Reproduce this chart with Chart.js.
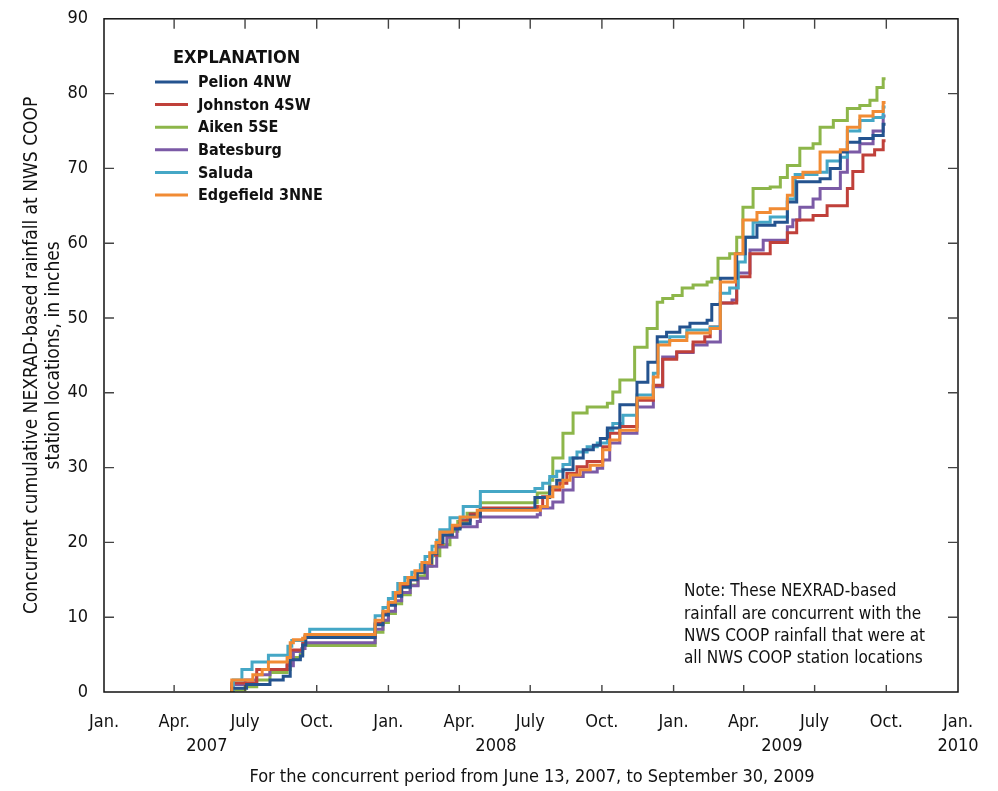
<!DOCTYPE html>
<html>
<head>
<meta charset="utf-8">
<title>Concurrent cumulative NEXRAD-based rainfall</title>
<script src="https://cdn.jsdelivr.net/npm/chart.js@4.4.1/dist/chart.umd.min.js"></script>
<style>
  html, body { margin: 0; padding: 0; background: #fff; }
  #wrap { width: 998px; height: 791px; }
</style>
</head>
<body>
<div id="wrap"><canvas id="rainChart" width="998" height="791"></canvas></div>
<script>
// x values are days counted from 1 January 2007
const quarterDays = [0, 90, 181, 273, 365, 456, 547, 639, 731, 821, 912, 1004, 1096];
const quarterLabels = ['Jan.', 'Apr.', 'July', 'Oct.', 'Jan.', 'Apr.', 'July', 'Oct.', 'Jan.', 'Apr.', 'July', 'Oct.', 'Jan.'];
const yearLabels = ['2007', '2008', '2009', '2010'];
const yearLabelDays = [132, 503, 870, 1096];

const stationNames = ['Pelion 4NW', 'Johnston 4SW', 'Aiken 5SE', 'Batesburg', 'Saluda', 'Edgefield 3NNE'];
const stationColors = ['#24538f', '#c0403a', '#8db64a', '#7b5aa6', '#45a7c6', '#f18b34'];
const drawOrder = [1, 3, 5, 4, 2, 0];

// cumulative rainfall, inches
const pelionDays = [163, 164, 183, 213, 230, 239, 252, 255, 259, 348, 358, 365, 374, 382, 393, 402, 411, 420, 427, 435, 447, 457, 470, 483, 553, 572, 581, 589, 602, 615, 628, 637, 646, 662, 684, 698, 710, 722, 739, 752, 774, 780, 791, 812, 823, 838, 861, 877, 889, 919, 932, 945, 954, 970, 987, 1000, 1003];
const pelionRain = [0, 0.5, 1.0, 1.6, 2.1, 4.3, 4.8, 6.3, 7.3, 9.0, 10.3, 11.6, 12.8, 14.0, 15.0, 16.0, 17.3, 18.5, 20.0, 21.0, 21.8, 22.5, 23.5, 24.4, 26.0, 27.4, 28.3, 29.7, 31.3, 32.4, 33.0, 33.9, 35.3, 38.4, 41.4, 44.1, 47.5, 48.1, 48.8, 49.3, 49.7, 51.8, 55.3, 58.6, 60.8, 62.4, 62.8, 65.5, 68.2, 68.6, 70.0, 72.2, 73.5, 74.0, 74.4, 75.9, 75.9];

const johnstonDays = [163, 164, 196, 235, 239, 255, 258, 348, 358, 365, 374, 382, 393, 402, 411, 420, 427, 434, 447, 457, 470, 483, 556, 563, 572, 585, 594, 607, 620, 640, 649, 662, 684, 705, 717, 735, 756, 771, 778, 791, 812, 829, 855, 877, 889, 910, 928, 954, 961, 974, 989, 1000, 1003];
const johnstonRain = [0, 1.2, 3.0, 3.9, 5.6, 6.6, 7.5, 9.2, 10.5, 11.8, 13.0, 14.3, 15.0, 16.0, 17.2, 18.3, 19.8, 21.0, 22.0, 23.0, 23.8, 24.6, 24.8, 26.1, 27.0, 27.9, 29.2, 30.1, 30.8, 32.8, 34.6, 35.5, 39.0, 41.0, 44.5, 45.5, 46.8, 47.5, 48.8, 52.0, 55.5, 58.6, 60.1, 61.4, 63.1, 63.7, 65.0, 67.3, 69.6, 71.8, 72.5, 73.7, 73.7];

const aikenDays = [163, 164, 181, 196, 213, 235, 239, 252, 255, 348, 358, 365, 374, 382, 393, 403, 412, 421, 431, 444, 454, 466, 483, 556, 572, 576, 589, 602, 620, 646, 653, 662, 681, 697, 710, 717, 730, 742, 756, 774, 780, 788, 803, 812, 820, 833, 855, 868, 877, 893, 910, 919, 936, 954, 970, 983, 992, 1000, 1003];
const aikenRain = [0, 0.3, 0.7, 1.6, 2.6, 3.0, 4.6, 5.0, 6.2, 8.0, 9.3, 10.5, 11.8, 13.0, 14.3, 15.5, 16.8, 18.2, 19.7, 21.5, 22.8, 23.9, 25.3, 26.6, 28.3, 31.3, 34.6, 37.3, 38.1, 38.6, 40.1, 41.7, 46.1, 48.6, 52.1, 52.6, 53.0, 54.0, 54.4, 54.8, 55.3, 58.0, 58.6, 60.8, 64.8, 67.3, 67.5, 68.8, 70.4, 72.7, 73.3, 75.5, 76.4, 78.0, 78.4, 79.1, 80.8, 82.0, 82.0];

const batesburgDays = [163, 164, 181, 196, 213, 235, 243, 254, 258, 348, 358, 365, 374, 382, 393, 403, 415, 427, 440, 453, 479, 483, 556, 560, 576, 589, 602, 615, 633, 640, 649, 662, 684, 705, 717, 735, 756, 774, 791, 806, 812, 829, 846, 877, 884, 893, 910, 919, 945, 954, 970, 987, 1000, 1003];
const batesburgRain = [0, 1.0, 1.6, 2.3, 3.0, 3.5, 5.4, 5.8, 6.6, 8.4, 9.6, 10.8, 12.2, 13.3, 14.2, 15.2, 16.8, 19.4, 20.7, 22.1, 22.8, 23.4, 23.7, 24.6, 25.4, 27.0, 28.8, 29.4, 29.9, 31.0, 33.3, 34.6, 38.1, 40.8, 44.8, 45.4, 46.4, 46.8, 52.0, 52.4, 56.0, 59.1, 60.4, 62.2, 63.1, 64.8, 65.9, 67.3, 69.5, 72.2, 73.3, 75.0, 77.0, 77.0];

const saludaDays = [163, 166, 177, 190, 211, 236, 241, 258, 264, 348, 358, 365, 371, 377, 386, 395, 406, 412, 421, 427, 431, 444, 461, 483, 553, 563, 572, 581, 589, 598, 607, 620, 633, 646, 653, 666, 684, 705, 711, 726, 748, 778, 791, 803, 814, 823, 833, 855, 877, 887, 915, 928, 945, 954, 970, 987, 1000, 1003];
const saludaRain = [0, 1.6, 3.0, 4.0, 4.9, 6.1, 6.9, 7.4, 8.4, 10.2, 11.3, 12.5, 13.3, 14.5, 15.3, 16.0, 17.0, 18.1, 19.5, 20.3, 21.7, 23.3, 24.8, 26.8, 27.2, 27.9, 28.8, 29.5, 30.4, 31.3, 32.1, 32.8, 33.3, 35.0, 35.9, 37.0, 39.7, 42.6, 46.8, 47.5, 48.4, 48.8, 53.3, 54.0, 57.5, 60.8, 62.8, 63.5, 65.9, 69.2, 69.5, 71.0, 71.5, 75.0, 76.4, 76.8, 78.2, 78.2];

const edgefieldDays = [163, 164, 191, 203, 211, 235, 239, 243, 255, 258, 348, 358, 365, 374, 380, 390, 399, 408, 418, 426, 431, 447, 457, 479, 560, 569, 576, 589, 598, 611, 624, 640, 649, 662, 684, 705, 711, 726, 748, 778, 791, 810, 820, 838, 855, 877, 884, 897, 919, 945, 954, 970, 987, 1000, 1003];
const edgefieldRain = [0, 1.6, 2.3, 3.0, 4.0, 4.6, 6.6, 7.0, 7.2, 7.7, 9.6, 10.8, 12.0, 13.3, 14.5, 15.3, 16.2, 17.3, 18.6, 20.0, 21.4, 22.3, 23.4, 24.3, 24.8, 26.1, 27.4, 28.3, 29.0, 29.7, 30.3, 32.4, 33.7, 35.0, 39.3, 42.1, 46.4, 47.0, 48.0, 48.6, 54.8, 58.6, 63.1, 64.1, 64.6, 66.4, 68.8, 69.5, 72.2, 72.5, 75.5, 77.0, 77.6, 78.8, 78.8];

const stationDays = [pelionDays, johnstonDays, aikenDays, batesburgDays, saludaDays, edgefieldDays];
const stationRain = [pelionRain, johnstonRain, aikenRain, batesburgRain, saludaRain, edgefieldRain];

const yTitle = ['Concurrent cumulative NEXRAD-based rainfall at NWS COOP', 'station locations, in inches'];
const xTitle = 'For the concurrent period from June 13, 2007, to September 30, 2009';
const noteLines = ['Note: These NEXRAD-based', 'rainfall are concurrent with the', 'NWS COOP rainfall that were at', 'all NWS COOP station locations'];

const FONT = "'Liberation Sans Narrow', 'DejaVu Sans Condensed', 'Roboto Condensed', 'Liberation Sans', sans-serif";
Chart.defaults.font.family = FONT;
Chart.defaults.color = '#111';

const datasets = stationNames.map((name, i) => ({
  label: name,
  data: stationDays[i].map((d, k) => ({ x: d, y: stationRain[i][k] })),
  borderColor: stationColors[i],
  backgroundColor: stationColors[i],
  borderWidth: 3,
  pointRadius: 0,
  stepped: true,
  fill: false,
  order: drawOrder[i]
}));

// frame, inward ticks, year labels, axis titles, explanation and note
const frameAndText = {
  id: 'frameAndText',
  afterDatasetsDraw(chart) {
    const { ctx, chartArea: a, scales } = chart;
    const x = scales.x, y = scales.y;
    ctx.save();

    ctx.strokeStyle = '#111';
    ctx.lineWidth = 1.5;
    ctx.strokeRect(a.left, a.top, a.right - a.left, a.bottom - a.top);

    ctx.strokeStyle = '#444';
    ctx.lineWidth = 1.4;
    ctx.beginPath();
    quarterDays.slice(1, -1).forEach(d => {
      const px = x.getPixelForValue(d);
      ctx.moveTo(px, a.bottom); ctx.lineTo(px, a.bottom - 7);
      ctx.moveTo(px, a.top); ctx.lineTo(px, a.top + 10);
    });
    for (let v = 10; v < 90; v += 10) {
      const py = y.getPixelForValue(v);
      ctx.moveTo(a.left, py); ctx.lineTo(a.left + 10, py);
      ctx.moveTo(a.right, py); ctx.lineTo(a.right - 10, py);
    }
    ctx.stroke();

    ctx.fillStyle = '#111';
    ctx.textAlign = 'center';
    ctx.textBaseline = 'middle';
    ctx.font = '18px ' + FONT;
    yearLabels.forEach((t, i) => ctx.fillText(t, x.getPixelForValue(yearLabelDays[i]), 746));
    ctx.fillText(xTitle, (a.left + a.right) / 2 + 1, 777);

    ctx.save();
    ctx.translate(32, (a.top + a.bottom) / 2);
    ctx.rotate(-Math.PI / 2);
    ctx.font = '19px ' + FONT;
    ctx.fillText(yTitle[0], 0, 0);
    ctx.fillText(yTitle[1], 0, 22);
    ctx.restore();

    // explanation
    ctx.textAlign = 'left';
    ctx.font = 'bold 18px ' + FONT;
    ctx.fillText('EXPLANATION', 173, 58);
    ctx.font = 'bold 16px ' + FONT;
    stationNames.forEach((name, i) => {
      const ly = 82 + i * 22.6;
      ctx.strokeStyle = stationColors[i];
      ctx.lineWidth = 3;
      ctx.beginPath();
      ctx.moveTo(155, ly); ctx.lineTo(188, ly);
      ctx.stroke();
      ctx.fillText(name, 198, ly + 1);
    });

    ctx.font = '17px ' + FONT;
    noteLines.forEach((t, i) => ctx.fillText(t, 684, 592 + i * 22.3));

    ctx.restore();
  }
};

new Chart(document.getElementById('rainChart'), {
  type: 'line',
  data: { datasets: datasets },
  options: {
    responsive: false,
    animation: false,
    layout: { padding: { top: 18, right: 40, left: 0, bottom: 0 } },
    plugins: { legend: { display: false }, tooltip: { enabled: false } },
    scales: {
      x: {
        type: 'linear',
        min: 0,
        max: 1096,
        grid: { display: false },
        border: { display: false },
        afterBuildTicks: scale => { scale.ticks = quarterDays.map(v => ({ value: v })); },
        afterFit: scale => { scale.height = 99; },
        ticks: {
          autoSkip: false,
          maxRotation: 0,
          padding: 12,
          color: '#111',
          font: { size: 18 },
          callback: value => quarterLabels[quarterDays.indexOf(value)]
        }
      },
      y: {
        min: 0,
        max: 90,
        grid: { display: false },
        border: { display: false },
        afterFit: scale => { scale.width = 104; },
        ticks: { stepSize: 10, padding: 8, color: '#111', font: { size: 18 } }
      }
    }
  },
  plugins: [frameAndText]
});
</script>
</body>
</html>
